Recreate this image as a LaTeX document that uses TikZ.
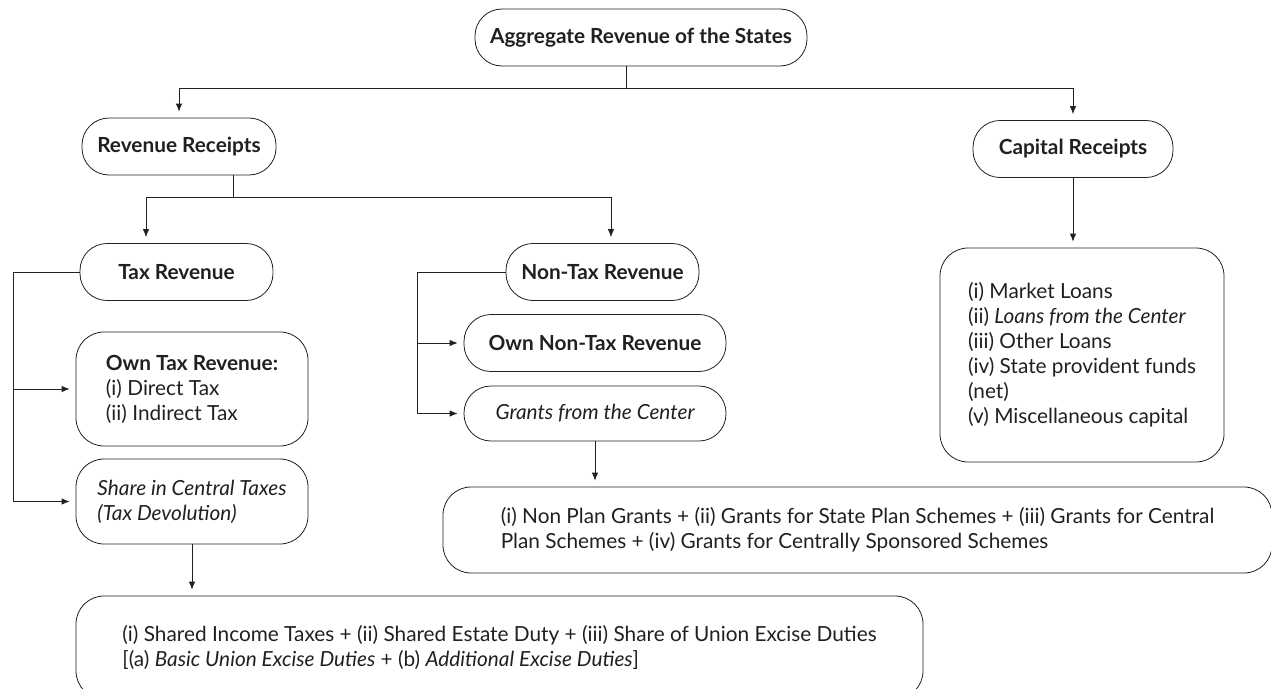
\documentclass[tikz,border=0pt]{standalone}
\usepackage{fontspec}
\setmainfont{Lato}
\usepackage{xcolor}
\usetikzlibrary{arrows.meta,positioning,calc}

\definecolor{ink}{HTML}{231F20}
\newcommand{\chartfont}{\fontsize{20.8}{25}\selectfont}

\tikzset{
	pill/.style={draw, rounded corners=27pt, minimum height=57pt, font=\chartfont\bfseries, align=center},
	listbox/.style={draw, rounded corners=28pt, font=\chartfont, align=left},
	arr/.style={-{Latex[length=8pt,width=6.5pt]}, shorten >=6pt},
}

\begin{document}
\begin{tikzpicture}[x=1pt, y=-1pt, line width=0.8pt, color=ink]
	\useasboundingbox (0,0) rectangle (1271,688);
	
	\node[pill, minimum width=332pt] (agg) at (641,37.5) {Aggregate Revenue of the States};
	\node[pill, minimum width=194pt] (rev) at (179,146.5) {Revenue Receipts};
	\node[pill, minimum width=200pt] (cap) at (1073,149) {Capital Receipts};
	
	\node[pill, minimum width=193pt] (tax) at (176.5,272) {Tax Revenue};
	\node[pill, minimum width=193pt] (ntax) at (602.5,272) {Non-Tax Revenue};
	
	\node[listbox, minimum width=232pt, minimum height=114pt] (own) at (192,389)
		{\textbf{Own Tax Revenue:}\\(i) Direct Tax\\(ii) Indirect Tax};
	\node[listbox, minimum width=232pt, minimum height=85pt, font=\chartfont\itshape] (share) at (192,501.5)
		{Share in Central Taxes\\(Tax Devolution)};
	
	\node[pill, minimum width=262pt] (ownnt) at (595,343) {Own Non-Tax Revenue};
	\node[pill, minimum width=262pt, minimum height=55pt, font=\chartfont\itshape] (grants) at (595,413.5) {Grants from the Center};
	
	\node[listbox, minimum width=284pt, minimum height=214pt] (clist) at (1082,355)
		{(i) Market Loans\\(ii) \textit{Loans from the Center}\\(iii) Other Loans\\(iv) State provident funds\\(net)\\(v) Miscellaneous capital};
	\node[listbox, minimum width=829pt, minimum height=86pt] (glist) at (857.5,530)
		{(i) Non Plan Grants + (ii) Grants for State Plan Schemes + (iii) Grants for Central\\Plan Schemes + (iv) Grants for Centrally Sponsored Schemes};
	\node[listbox, minimum width=847pt, minimum height=103pt] (dlist) at (499.5,647.5)
		{(i) Shared Income Taxes + (ii) Shared Estate Duty + (iii) Share of Union Excise Duties\\{}[(a) \textit{Basic Union Excise Duties} + (b) \textit{Additional Excise Duties}]};
	
	% top level split
	\coordinate (topsplit) at (626,88);
	\draw (agg.south -| topsplit) -- (topsplit);
	\draw[arr] (topsplit) -| (rev.north);
	\draw[arr] (topsplit) -| (cap.north);
	\draw[arr] (cap.south) -- (cap.south |- clist.north);
	
	% revenue receipts split
	\coordinate (revsplit) at (233,197);
	\draw (rev.south -| revsplit) -- (revsplit);
	\draw[arr] (revsplit) -| ([xshift=-30.5pt]tax.north);
	\draw[arr] (revsplit) -| ([xshift=8.5pt]ntax.north);
	
	% tax revenue bracket
	\coordinate (taxrail) at (13,272);
	\draw (tax.west) -- (taxrail);
	\draw[arr] (taxrail) |- (own.west);
	\draw[arr] (taxrail) |- (share.west);
	\draw[arr] (share.south) -- (share.south |- dlist.north);
	
	% non-tax revenue bracket
	\coordinate (ntaxrail) at (417,272);
	\draw (ntax.west) -- (ntaxrail);
	\draw[arr] (ntaxrail) |- (ownnt.west);
	\draw[arr] (ntaxrail) |- (grants.west);
	\draw[arr] (grants.south) -- (grants.south |- glist.north);
\end{tikzpicture}
\end{document}
